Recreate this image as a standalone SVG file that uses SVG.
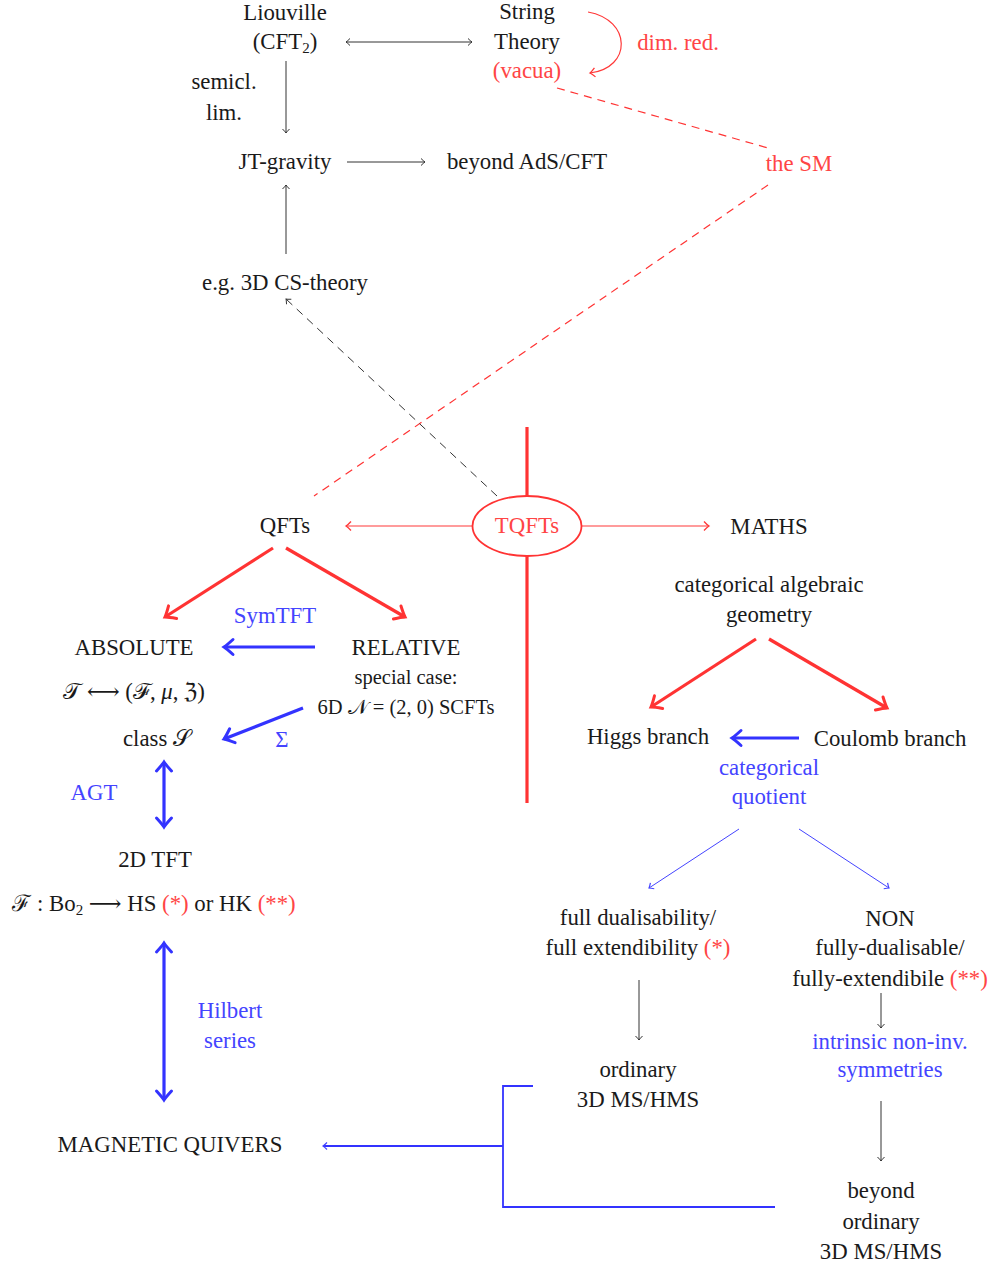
<svg xmlns="http://www.w3.org/2000/svg" width="990" height="1265" viewBox="0 0 990 1265">
<style>
text{font-family:"Liberation Serif","DejaVu Serif",serif;font-size:22.8px;fill:#1a1a1a;text-anchor:middle}
.r{fill:#ff4545}
.b{fill:#4444ff}
.sm{font-size:20.5px}
.g{stroke:#333;stroke-width:1;fill:none}
.rt{stroke:#ff3838;stroke-width:1.2;fill:none}
.rT{stroke:#ff3333;stroke-width:3.2;fill:none}
.bT{stroke:#3333ff;stroke-width:3.2;fill:none}
.bt{stroke:#4444ff;stroke-width:1;fill:none}
.bm{stroke:#3333ff;stroke-width:1.8;fill:none}
.rd{stroke:#ff3333;stroke-width:1.2;fill:none;stroke-dasharray:8 6}
.kd{stroke:#333;stroke-width:1;fill:none;stroke-dasharray:8 6}
</style>
<defs>
<marker id="ag" viewBox="-10 -10 20 20" markerWidth="20" markerHeight="20" markerUnits="userSpaceOnUse" refX="0" refY="0" orient="auto-start-reverse"><path d="M-4,-3.5 Q-1.5,-1 0,0 Q-1.5,1 -4,3.5" stroke="#333" stroke-width="1" fill="none"/></marker>
<marker id="ar" viewBox="-10 -10 20 20" markerWidth="20" markerHeight="20" markerUnits="userSpaceOnUse" refX="0" refY="0" orient="auto-start-reverse"><path d="M-5,-4.5 Q-2,-1.2 0,0 Q-2,1.2 -5,4.5" stroke="#ff3838" stroke-width="1.3" fill="none"/></marker>
<marker id="aR" viewBox="-15 -15 30 30" markerWidth="30" markerHeight="30" markerUnits="userSpaceOnUse" refX="0" refY="0" orient="auto-start-reverse"><path d="M-9,-7.5 Q-3,-2 0,0 Q-3,2 -9,7.5" stroke="#ff3333" stroke-width="3" fill="none" stroke-linecap="round"/></marker>
<marker id="aB" viewBox="-15 -15 30 30" markerWidth="30" markerHeight="30" markerUnits="userSpaceOnUse" refX="0" refY="0" orient="auto-start-reverse"><path d="M-9,-7.5 Q-3,-2 0,0 Q-3,2 -9,7.5" stroke="#3333ff" stroke-width="3" fill="none" stroke-linecap="round"/></marker>
<marker id="ab" viewBox="-10 -10 20 20" markerWidth="20" markerHeight="20" markerUnits="userSpaceOnUse" refX="0" refY="0" orient="auto-start-reverse"><path d="M-4,-3.5 Q-1.5,-1 0,0 Q-1.5,1 -4,3.5" stroke="#4444ff" stroke-width="1.2" fill="none"/></marker>
</defs>

<g id="connectors">
<line class="g" x1="346" y1="42" x2="472" y2="42" marker-start="url(#ag)" marker-end="url(#ag)"/>
<path class="rt" d="M588,12 C632,20 632,68 590,73" stroke-width="2" marker-end="url(#ar)"/>
<line class="g" x1="286" y1="61" x2="286" y2="133" marker-end="url(#ag)"/>
<line class="g" x1="347" y1="162" x2="425" y2="162" marker-end="url(#ag)"/>
<line class="g" x1="286" y1="254" x2="286" y2="185" marker-end="url(#ag)"/>
<line class="rd" x1="557" y1="88" x2="768" y2="148"/>
<line class="rd" x1="768" y1="185" x2="314" y2="496"/>
<line class="kd" x1="497" y1="496" x2="286" y2="299" marker-end="url(#ag)"/>
<line class="rT" x1="527" y1="427" x2="527" y2="496" stroke-width="3.4"/>
<line class="rT" x1="527" y1="556" x2="527" y2="803" stroke-width="3.4"/>
<line class="rt" x1="472" y1="526" x2="346" y2="526" marker-end="url(#ar)"/>
<line class="rt" x1="582" y1="526" x2="709" y2="526" marker-end="url(#ar)"/>
<line class="rT" x1="273" y1="548" x2="165" y2="617" marker-end="url(#aR)"/>
<line class="rT" x1="286" y1="548" x2="405" y2="617" marker-end="url(#aR)"/>
<line class="bT" x1="315" y1="647" x2="224" y2="647" marker-end="url(#aB)"/>
<line class="bT" x1="303" y1="708" x2="224" y2="739" marker-end="url(#aB)"/>
<line class="bT" x1="164" y1="762" x2="164" y2="827" marker-start="url(#aB)" marker-end="url(#aB)"/>
<line class="bT" x1="164" y1="943" x2="164" y2="1100" marker-start="url(#aB)" marker-end="url(#aB)"/>
<line class="rT" x1="756" y1="639" x2="651" y2="707" marker-end="url(#aR)"/>
<line class="rT" x1="769" y1="639" x2="887" y2="708" marker-end="url(#aR)"/>
<line class="bT" x1="799" y1="738" x2="732" y2="738" marker-end="url(#aB)"/>
<line class="bt" x1="739" y1="829" x2="649" y2="888" marker-end="url(#ab)"/>
<line class="bt" x1="799" y1="829" x2="889" y2="888" marker-end="url(#ab)"/>
<line class="g" x1="639" y1="980" x2="639" y2="1040" marker-end="url(#ag)"/>
<line class="g" x1="881" y1="993" x2="881" y2="1028" marker-end="url(#ag)"/>
<line class="g" x1="881" y1="1101" x2="881" y2="1161" marker-end="url(#ag)"/>
<polyline class="bm" points="533,1086 503,1086 503,1207 775,1207"/>
<line class="bm" x1="503" y1="1146" x2="323" y2="1146" stroke-width="1.3" marker-end="url(#ab)"/>
</g>

<g id="liouville"><text x="285" y="20">Liouville</text><text x="285" y="49">(CFT<tspan font-size="15" dy="4">2</tspan><tspan dy="-4">)</tspan></text></g>
<g id="string"><text x="527" y="19">String</text><text x="527" y="49">Theory</text><text x="527" y="78" class="r">(vacua)</text></g>
<g id="dimred"><text x="678" y="50" class="r">dim. red.</text></g>
<g id="semicl"><text x="224" y="89">semicl.</text><text x="224" y="120">lim.</text></g>
<g id="jt"><text x="285" y="169">JT-gravity</text></g>
<g id="beyond-ads"><text x="527" y="169">beyond AdS/CFT</text></g>
<g id="sm"><text x="799" y="171" class="r">the SM</text></g>
<g id="cs"><text x="285" y="290">e.g. 3D CS-theory</text></g>
<g id="tqfts"><ellipse cx="527" cy="526" rx="54.5" ry="30" fill="none" stroke="#ff3333" stroke-width="1.8"/><text x="527" y="533" class="r">TQFTs</text></g>
<g id="qfts"><text x="285" y="533">QFTs</text></g>
<g id="maths"><text x="769" y="534">MATHS</text></g>
<g id="symtft"><text x="275" y="623" class="b">SymTFT</text></g>
<g id="absolute"><text x="134" y="655">ABSOLUTE</text><text x="134" y="699">𝒯 ⟷ (ℱ, <tspan font-style="italic">μ</tspan>, ℨ)</text></g>
<g id="relative"><text x="406" y="655">RELATIVE</text><text x="406" y="684" class="sm">special case:</text><text x="406" y="714" class="sm">6D 𝒩 = (2, 0) SCFTs</text></g>
<g id="sigma"><text x="282" y="747" class="b">Σ</text></g>
<g id="classS"><text x="157" y="746">class 𝒮</text></g>
<g id="agt"><text x="94" y="800" class="b">AGT</text></g>
<g id="tft"><text x="155" y="867">2D TFT</text><text x="154" y="911">ℱ : Bo<tspan font-size="15" dy="4">2</tspan><tspan dy="-4"> ⟶ HS </tspan><tspan class="r">(*)</tspan> or HK <tspan class="r">(**)</tspan></text></g>
<g id="hilbert"><text x="230" y="1018" class="b">Hilbert</text><text x="230" y="1048" class="b">series</text></g>
<g id="quivers"><text x="170" y="1152">MAGNETIC QUIVERS</text></g>
<g id="cag"><text x="769" y="592">categorical algebraic</text><text x="769" y="622">geometry</text></g>
<g id="higgs"><text x="648" y="744">Higgs branch</text></g>
<g id="coulomb"><text x="890" y="746">Coulomb branch</text></g>
<g id="quotient"><text x="769" y="775" class="b">categorical</text><text x="769" y="804" class="b">quotient</text></g>
<g id="full"><text x="638" y="925">full dualisability/</text><text x="638" y="955">full extendibility <tspan class="r">(*)</tspan></text></g>
<g id="non"><text x="890" y="926">NON</text><text x="890" y="955">fully-dualisable/</text><text x="890" y="986">fully-extendibile <tspan class="r">(**)</tspan></text></g>
<g id="ordinary"><text x="638" y="1077">ordinary</text><text x="638" y="1107">3D MS/HMS</text></g>
<g id="intrinsic"><text x="890" y="1049" class="b">intrinsic non-inv.</text><text x="890" y="1077" class="b">symmetries</text></g>
<g id="beyond-ord"><text x="881" y="1198">beyond</text><text x="881" y="1229">ordinary</text><text x="881" y="1259">3D MS/HMS</text></g>
</svg>
